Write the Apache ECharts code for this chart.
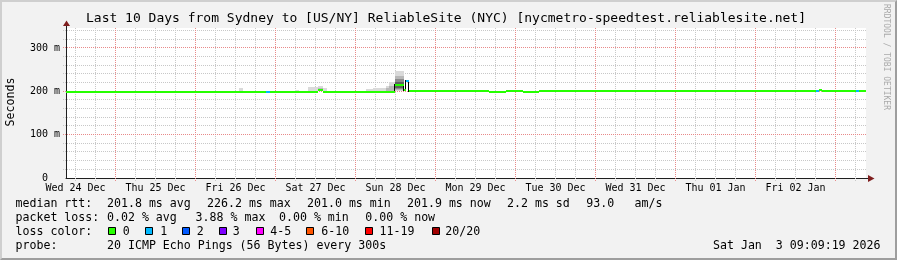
<!DOCTYPE html>
<html><head><meta charset="utf-8">
<script src="https://cdn.jsdelivr.net/npm/echarts@6/dist/echarts.min.js"></script>
<style>
html,body{margin:0;padding:0;background:#f2f2f2;}
#wrap{position:relative;width:897px;height:260px;overflow:hidden}
#chart{position:absolute;left:0;top:0;width:897px;height:260px}
#frame{position:absolute;left:0;top:0;width:897px;height:260px;box-sizing:border-box;border-top:2px solid #cfcfcf;border-left:2px solid #cfcfcf;border-right:2px solid #9e9e9e;border-bottom:2px solid #9e9e9e;pointer-events:none}
</style></head><body>
<div id="wrap"><div id="chart"></div><div id="frame"></div></div>
<script>
// ---- data (x = hours since Wed 24 Dec 00:00) ----
const START = 9.155, END = 249.155;
const Y_MAX = 346;
const dayLabels = ['Wed 24 Dec','Thu 25 Dec','Fri 26 Dec','Sat 27 Dec','Sun 28 Dec','Mon 29 Dec','Tue 30 Dec','Wed 31 Dec','Thu 01 Jan','Fri 02 Jan'];
const dayNoon = [12,36,60,84,108,132,156,180,204,228];
const midnights = [24,48,72,96,120,144,168,192,216,240];
const yTickValues = [0,100,200,300];
const yTickLabels = ['0  ','100 m','200 m','300 m'];

const lossColors = ['#26ff00','#00b8ff','#0059ff','#7e00ff','#ff00ff','#ff5500','#ff0000','#a10000'];
const lossLabels = ['0','1','2','3','4-5','6-10','11-19','20/20'];

// median rtt (ms) as step segments: start hour, value, loss class
const medianStart = [9.155, 69.2, 70.3, 84.9, 86.4, 107.8, 110.5, 111.1, 112.1, 136.2, 141.3, 146.4, 151.2, 234.3, 235.1, 236.1, 246.2, 247.2];
const medianValue = [201.0, 201.0, 201.0, 204.5, 201.0, 216.0, 204.5, 226.2, 203.0, 201.0, 203.0, 201.0, 203.0, 203.0, 204.5, 203.0, 203.0, 203.0];
const medianLoss  = [0, 1, 0, 0, 0, 0, 0, 1, 0, 0, 0, 0, 0, 1, 0, 0, 1, 0];

// smoke bands: [start hour, end hour, low ms, high ms]
const smokeLight = [
  [61.2, 62.4, 201, 207], [78.0, 79.2, 201, 204], [81.9, 84.9, 201, 209],
  [84.9, 86.4, 201, 212], [86.4, 87.6, 201, 208], [99.3, 101.4, 201, 206],
  [101.4, 105.3, 201, 208], [105.3, 106.2, 201, 213], [106.2, 108.0, 201, 222],
  [108.0, 110.5, 201, 247]
];
const smokeMid = [[84.9, 86.4, 201, 207], [105.3, 106.2, 201, 208], [106.2, 108.0, 201, 212], [108.0, 110.5, 202, 236]];
const smokeDark = [[108.0, 110.5, 205, 228]];
const smokeDarker = [[108.0, 110.5, 208, 222]];

const statsRtt = ['201.8 ms avg','226.2 ms max','201.0 ms min','201.9 ms now','2.2 ms sd','93.0','am/s'];
const statsLoss = ['0.02 % avg','3.88 % max','0.00 % min','0.00 % now'];

// ---- derived ----
const minorX = []; for (let h = 12; h <= 246; h += 6) if (h % 24 !== 0) minorX.push(h);
const minorY = []; for (let v = 20; v <= 340; v += 20) if (v % 100 !== 0) minorY.push(v);
const majorY = [100, 200, 300];
const medianSegs = medianStart.map((s, i) => [s, i + 1 < medianStart.length ? medianStart[i + 1] : END, medianValue[i], medianLoss[i]]);
const medianSteps = [];
for (let i = 1; i < medianStart.length; i++) if (medianValue[i] !== medianValue[i - 1]) medianSteps.push([medianStart[i], medianValue[i - 1], medianValue[i]]);

const FONT = 'DejaVu Sans Mono';
const GRID = {left: 66, top: 28, width: 800, height: 150};

// dotted grid lines drawn as 1px dots (keeps colours exact and pixels crisp)
function gridSeries(values, dir, color) {
  return {
    type: 'custom', silent: true, animation: false, clip: false, z: 1,
    color: color, itemStyle: {color: color},
    data: values.map(v => [v]),
    encode: dir === 'x' ? {x: 0} : {y: 0},
    renderItem: (params, api) => {
      const cs = params.coordSys;
      const children = [];
      if (dir === 'x') {
        const px = Math.floor(api.coord([api.value(0), 0])[0]);
        for (let y = cs.y; y < cs.y + cs.height + 3; y += 2)
          children.push({type: 'rect', shape: {x: px, y: y, width: 1, height: 1}, style: {fill: color}});
      } else {
        const py = Math.floor(api.coord([START, api.value(0)])[1]);
        for (let x = cs.x - 3; x < cs.x + cs.width; x += 2)
          children.push({type: 'rect', shape: {x: x, y: py, width: 1, height: 1}, style: {fill: color}});
      }
      return {type: 'group', children: children};
    }
  };
}
function bandSeries(data, color, z) {
  return {
    type: 'custom', silent: true, animation: false, z: z, data: data,
    color: color, itemStyle: {color: color},
    encode: {x: [0, 1], y: [2, 3]},
    renderItem: (params, api) => {
      const a = api.coord([api.value(0), api.value(3)]);
      const b = api.coord([api.value(1), api.value(2)]);
      const x0 = Math.round(a[0]), x1 = Math.round(b[0]);
      const y0 = Math.round(a[1]), y1 = Math.round(b[1]);
      return {type: 'rect', shape: {x: x0, y: y0, width: x1 - x0, height: y1 - y0}, style: {fill: color}};
    }
  };
}

const chart = echarts.init(document.getElementById('chart'), null, {renderer: 'canvas'});

const graphics = [];
function txt(x, y, text, opts) {
  opts = opts || {};
  graphics.push({
    type: 'text', x: x, y: y, rotation: opts.rotation || 0, silent: true,
    style: {text: text, fill: opts.color || '#000', fontSize: opts.size || 11.6, fontFamily: FONT,
      align: opts.align || 'left', verticalAlign: 'middle'}
  });
}
// title
txt(446, 18.5, 'Last 10 Days from Sydney to [US/NY] ReliableSite (NYC) [nycmetro-speedtest.reliablesite.net]', {size: 13, align: 'center'});
txt(10.5, 102, 'Seconds', {rotation: Math.PI / 2, align: 'center'});
txt(886, 57, 'RRDTOOL / TOBI OETIKER', {rotation: -Math.PI / 2, align: 'center', size: 8, color: '#aaaaaa'});
// legend
const rttX = [107, 207, 307, 407, 507, 586.3, 634.6];
txt(15.5, 204, 'median rtt:');
statsRtt.forEach((s, i) => txt(rttX[i], 204, s));
const lossX = [107, 195.6, 279, 365.3];
txt(15.5, 218.3, 'packet loss:');
statsLoss.forEach((s, i) => txt(lossX[i], 218.3, s));
txt(15.5, 232, 'loss color:');
const boxX = [108, 145, 182, 219, 256, 306, 365, 432];
const boxLabelX = [122.8, 160.2, 196.8, 232.8, 270.2, 321.2, 379.6, 445.3];
lossLabels.forEach((l, i) => {
  graphics.push({type: 'rect', silent: true, shape: {x: boxX[i] + 0.5, y: 227.5, width: 7, height: 7},
    style: {fill: lossColors[i], stroke: '#000', lineWidth: 1}});
  txt(boxLabelX[i], 232, l);
});
txt(15.5, 246.3, 'probe:');
txt(107, 246.3, '20 ICMP Echo Pings (56 Bytes) every 300s');
txt(880.5, 246.3, 'Sat Jan  3 09:09:19 2026', {align: 'right'});
// axis extensions + arrows
graphics.push({type: 'line', silent: true, shape: {x1: 866, y1: 178.5, x2: 869, y2: 178.5}, style: {stroke: '#1f1f1f', lineWidth: 1}});
graphics.push({type: 'polygon', silent: true, shape: {points: [[868, 175], [874.5, 178.5], [868, 182]]}, style: {fill: '#7f1f1f'}});
graphics.push({type: 'line', silent: true, shape: {x1: 66.5, y1: 28, x2: 66.5, y2: 25}, style: {stroke: '#1f1f1f', lineWidth: 1}});
graphics.push({type: 'polygon', silent: true, shape: {points: [[63, 26], [66.5, 20.5], [70, 26]]}, style: {fill: '#7f1f1f'}});

chart.setOption({
  animation: false,
  backgroundColor: '#f2f2f2',
  grid: Object.assign({show: true, backgroundColor: '#ffffff', borderWidth: 0, containLabel: false, outerBoundsMode: 'none'}, GRID),
  xAxis: {
    type: 'value', min: START, max: END,
    axisLine: {show: true, lineStyle: {color: '#1f1f1f', width: 1}},
    axisTick: {show: false},
    splitLine: {show: false},
    axisLabel: {
      show: true, customValues: dayNoon, margin: 5, color: '#000', fontFamily: FONT, fontSize: 10,
      formatter: v => { const i = dayNoon.indexOf(v); return i >= 0 ? dayLabels[i] : ''; }
    }
  },
  yAxis: {
    type: 'value', min: 0, max: Y_MAX, interval: 100,
    axisLine: {show: true, lineStyle: {color: '#1f1f1f', width: 1}},
    axisTick: {show: false},
    splitLine: {show: false},
    axisLabel: {
      show: true, customValues: yTickValues, margin: 6, color: '#000', fontFamily: FONT, fontSize: 10,
      formatter: v => { const i = yTickValues.indexOf(v); return i >= 0 ? yTickLabels[i] : ''; }
    }
  },
  series: [
    gridSeries(minorX, 'x', '#c8c8c8'),
    gridSeries(minorY, 'y', '#c8c8c8'),
    gridSeries(midnights, 'x', '#e88a8a'),
    gridSeries(majorY, 'y', '#e88a8a'),
    bandSeries(smokeLight, '#dadada', 2),
    bandSeries(smokeMid, '#b8b8b8', 3),
    bandSeries(smokeDark, '#8c8c8c', 4),
    bandSeries(smokeDarker, '#606060', 5),
    {
      type: 'custom', silent: true, animation: false, z: 6, data: medianSteps,
      color: '#000', itemStyle: {color: '#000'},
      encode: {x: 0, y: [1, 2]},
      renderItem: (params, api) => {
        if (Math.abs(api.value(2) - api.value(1)) < 5) return null;
        const a = api.coord([api.value(0), api.value(1)]);
        const b = api.coord([api.value(0), api.value(2)]);
        const x = Math.round(a[0]) - 1;
        const ya = Math.round(a[1]), yb = Math.round(b[1]);
        const y0 = Math.min(ya, yb), y1 = Math.max(ya, yb) + 2;
        return {type: 'rect', shape: {x: x, y: y0, width: 1, height: y1 - y0}, style: {fill: '#000'}};
      }
    },
    {
      type: 'custom', silent: true, animation: false, z: 7, data: medianSegs,
      encode: {x: [0, 1], y: 2},
      renderItem: (params, api) => {
        const a = api.coord([api.value(0), api.value(2)]);
        const b = api.coord([api.value(1), api.value(2)]);
        const x0 = Math.round(a[0]), x1 = Math.round(b[0]);
        const y = Math.round(a[1]);
        return {type: 'rect', shape: {x: x0, y: y, width: x1 - x0, height: 2}, style: {fill: lossColors[api.value(3)]}};
      }
    }
  ],
  graphic: graphics
});
</script>
</body></html>
